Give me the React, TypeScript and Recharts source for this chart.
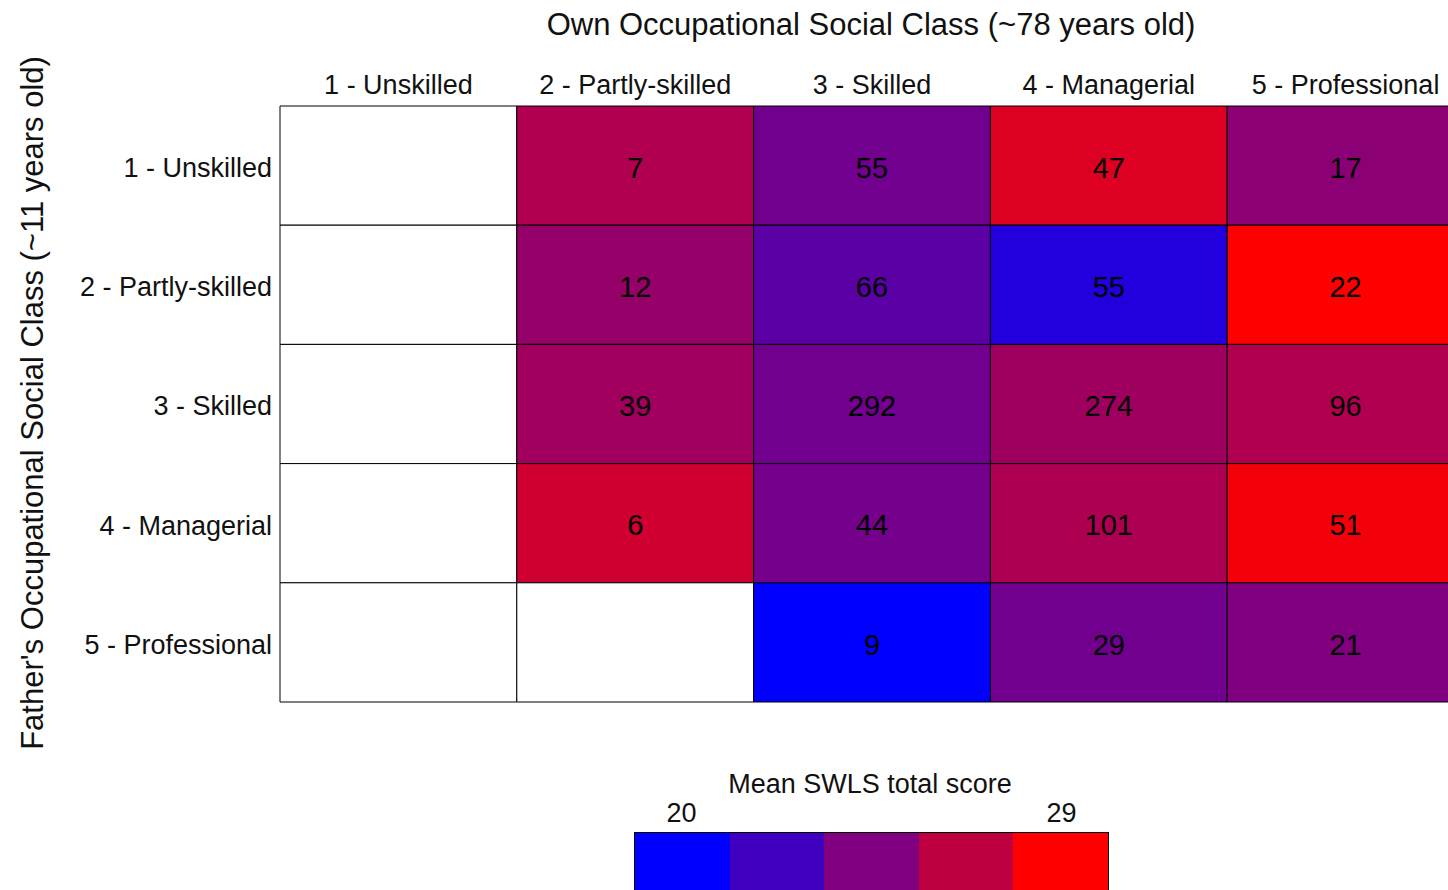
import React from 'react'
import {ReferenceArea, Scatter, ScatterChart, XAxis, YAxis} from 'recharts'

// Own class (~78 years) along the top, father's class (~11 years) down the side
const ownClasses = ['1 - Unskilled', '2 - Partly-skilled', '3 - Skilled', '4 - Managerial', '5 - Professional']
const fatherClasses = ['1 - Unskilled', '2 - Partly-skilled', '3 - Skilled', '4 - Managerial', '5 - Professional']

// rows = father's class, columns = own class; null = empty cell
const cellCounts = [
  [null, 7, 55, 47, 17],
  [null, 12, 66, 55, 22],
  [null, 39, 292, 274, 96],
  [null, 6, 44, 101, 51],
  [null, null, 9, 29, 21],
]

// mean SWLS total score per cell
const meanScores = [
  [null, 26.2, 24.0, 27.8, 24.9],
  [null, 25.3, 23.2, 21.2, 29.0],
  [null, 25.7, 24.0, 25.6, 26.2],
  [null, 27.3, 24.1, 26.1, 28.6],
  [null, null, 20.0, 24.0, 24.5],
]

const scoreRange = [20, 29]
const legendBins = [20, 22.25, 24.5, 26.75, 29]
const legendLabels = ['20', '', '', '', '29']

const FONT = "'Liberation Sans', Arial, sans-serif"

const scoreColor = (v: number) => {
  const t = Math.max(0, Math.min(1, (v - scoreRange[0]) / (scoreRange[1] - scoreRange[0])))
  return `rgb(${Math.round(255 * t)},0,${Math.round(255 * (1 - t))})`
}

const cells = cellCounts.flatMap((row, r) =>
  row.map((count, c) => ({col: c + 1, row: r + 1, count, score: meanScores[r][c]})),
)
const labelled = cells.filter((d) => d.count !== null)

const XTick = ({x, y, payload}: any) => (
  <text x={x} y={y} textAnchor="middle" fontSize={27} fill="#111" fontFamily={FONT}>
    {ownClasses[payload.value - 1]}
  </text>
)

const YTick = ({x, y, payload}: any) => (
  <text x={x} y={y} dy="0.42em" textAnchor="end" fontSize={27} fill="#111" fontFamily={FONT}>
    {fatherClasses[payload.value - 1]}
  </text>
)

const CountText = (props: any) => (
  <text
    x={props.cx}
    y={props.cy}
    dy="0.42em"
    textAnchor="middle"
    fontSize={29}
    fill="#000"
    fontFamily={FONT}
  >
    {props.payload.count}
  </text>
)

const Heatmap = () => {
  return (
    <div
      style={{
        position: 'absolute',
        left: 0,
        top: 0,
        width: 1448,
        height: 890,
        overflow: 'hidden',
        background: '#fff',
        fontFamily: FONT,
        color: '#111',
      }}
    >
      <ScatterChart width={1480} height={890} margin={{top: 66, right: 16, bottom: 188, left: 0}}>
        <XAxis
          type="number"
          dataKey="col"
          orientation="top"
          domain={[0.5, 5.5]}
          ticks={[1, 2, 3, 4, 5]}
          height={40}
          axisLine={false}
          tickLine={false}
          tickSize={0}
          tickMargin={12}
          tick={<XTick />}
          interval={0}
        />
        <YAxis
          type="number"
          dataKey="row"
          reversed
          domain={[0.5, 5.5]}
          ticks={[1, 2, 3, 4, 5]}
          width={280}
          axisLine={false}
          tickLine={false}
          tickSize={0}
          tickMargin={8}
          tick={<YTick />}
          interval={0}
        />
        {cells.map((d) => (
          <ReferenceArea
            key={`${d.row}-${d.col}`}
            x1={d.col - 0.5}
            x2={d.col + 0.5}
            y1={d.row - 0.5}
            y2={d.row + 0.5}
            fill={d.score === null ? '#fff' : scoreColor(d.score)}
            fillOpacity={1}
            stroke="#000"
            strokeWidth={1}
            ifOverflow="visible"
          />
        ))}
        <Scatter data={labelled} shape={<CountText />} isAnimationActive={false} />
      </ScatterChart>

      <div
        style={{
          position: 'absolute',
          left: 871,
          top: 9,
          transform: 'translateX(-50%)',
          fontSize: 31,
          lineHeight: 1,
          whiteSpace: 'nowrap',
        }}
      >
        Own Occupational Social Class (~78 years old)
      </div>

      <div
        style={{
          position: 'absolute',
          left: 32,
          top: 403,
          transform: 'translate(-50%, -50%) rotate(-90deg)',
          fontSize: 31,
          lineHeight: 1,
          whiteSpace: 'nowrap',
        }}
      >
        Father's Occupational Social Class (~11 years old)
      </div>

      {/* colour key */}
      <div
        style={{
          position: 'absolute',
          left: 870,
          top: 771,
          transform: 'translateX(-50%)',
          fontSize: 27,
          lineHeight: 1,
          whiteSpace: 'nowrap',
        }}
      >
        Mean SWLS total score
      </div>
      <div style={{position: 'absolute', left: 634, top: 800, width: 475, display: 'flex'}}>
        {legendLabels.map((l, i) => (
          <div key={i} style={{flex: 1, textAlign: 'center', fontSize: 27, lineHeight: 1}}>
            {l}
          </div>
        ))}
      </div>
      <div
        style={{
          position: 'absolute',
          left: 634,
          top: 832,
          width: 473,
          height: 80,
          display: 'flex',
          border: '1px solid #000',
        }}
      >
        {legendBins.map((v, i) => (
          <div key={i} style={{flex: 1, background: scoreColor(v)}} />
        ))}
      </div>
    </div>
  )
}

export default function App() {
  return <Heatmap />
}
